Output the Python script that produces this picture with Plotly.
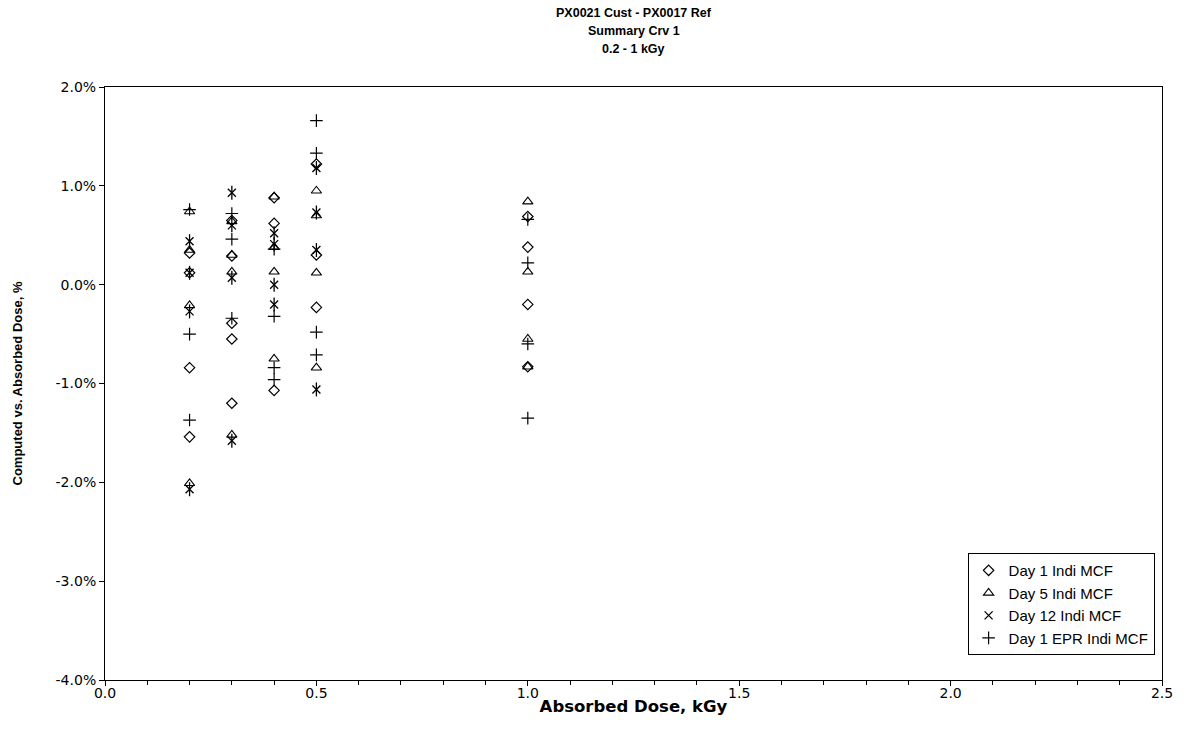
import plotly.graph_objects as go

# Absorbed dose (kGy) positions and deviations (%) per series
day1_x = [0.2, 0.2, 0.2, 0.2, 0.3, 0.3, 0.3, 0.3, 0.3, 0.4, 0.4, 0.4, 0.5, 0.5, 0.5, 1.0, 1.0, 1.0, 1.0]
day1_y = [0.32, 0.12, -0.84, -1.54, 0.65, 0.29, -0.39, -0.55, -1.20, 0.88, 0.62, -1.07, 1.22, 0.30, -0.23, 0.69, 0.38, -0.20, -0.83]

day5_x = [0.2, 0.2, 0.2, 0.2, 0.3, 0.3, 0.3, 0.3, 0.4, 0.4, 0.4, 0.4, 0.5, 0.5, 0.5, 0.5, 1.0, 1.0, 1.0, 1.0]
day5_y = [0.74, 0.35, -0.21, -2.01, 0.64, 0.30, 0.13, -1.52, 0.89, 0.38, 0.13, -0.75, 0.95, 0.70, 0.12, -0.84, 0.84, 0.13, -0.55, -0.83]

day12_x = [0.2, 0.2, 0.2, 0.2, 0.3, 0.3, 0.3, 0.3, 0.4, 0.4, 0.4, 0.4, 0.5, 0.5, 0.5, 0.5]
day12_y = [0.44, 0.12, -0.27, -2.07, 0.93, 0.60, 0.07, -1.58, 0.52, 0.41, 0.00, -0.20, 1.18, 0.73, 0.35, -1.06]

epr_x = [0.2, 0.2, 0.2, 0.3, 0.3, 0.3, 0.4, 0.4, 0.4, 0.4, 0.5, 0.5, 0.5, 0.5, 1.0, 1.0, 1.0, 1.0]
epr_y = [0.76, -0.50, -1.37, 0.72, 0.46, -0.34, 0.36, -0.32, -0.84, -0.96, 1.66, 1.33, -0.48, -0.71, 0.66, 0.22, -0.60, -1.35]

x_ticks = [0.0, 0.5, 1.0, 1.5, 2.0, 2.5]
x_tick_labels = ["0.0", "0.5", "1.0", "1.5", "2.0", "2.5"]
y_ticks = [2.0, 1.0, 0.0, -1.0, -2.0, -3.0, -4.0]
y_tick_labels = ["2.0%", "1.0%", "0.0%", "-1.0%", "-2.0%", "-3.0%", "-4.0%"]

title_lines = ["PX0021 Cust - PX0017 Ref", "Summary Crv 1", "0.2 - 1 kGy"]

WIDE = "DejaVu Sans, Verdana, sans-serif"
ARIAL = "Liberation Sans, Arial, sans-serif"
BLACK = "#000000"

fig = go.Figure()

fig.add_trace(go.Scatter(
    x=day1_x, y=day1_y, mode="markers", name="Day 1 Indi MCF",
    marker=dict(symbol="diamond-open", size=8, color=BLACK, line=dict(width=1.2, color=BLACK)),
))
fig.add_trace(go.Scatter(
    x=day5_x, y=day5_y, mode="markers", name="Day 5 Indi MCF",
    marker=dict(symbol="triangle-up-open", size=9, color=BLACK, line=dict(width=1.1, color=BLACK)),
))
fig.add_trace(go.Scatter(
    x=day12_x, y=day12_y, mode="markers", name="Day 12 Indi MCF",
    marker=dict(symbol="x-thin-open", size=8, color=BLACK, line=dict(width=1.3, color=BLACK)),
))
fig.add_trace(go.Scatter(
    x=day12_x, y=day12_y, mode="markers", name="Day 12 Indi MCF", showlegend=False,
    marker=dict(symbol="line-ns-open", size=10, color=BLACK, line=dict(width=1.3, color=BLACK)),
    hoverinfo="skip",
))
fig.add_trace(go.Scatter(
    x=epr_x, y=epr_y, mode="markers", name="Day 1 EPR Indi MCF",
    marker=dict(symbol="cross-thin-open", size=9, color=BLACK, line=dict(width=1.2, color=BLACK)),
))

# title lines placed individually to get the reference line spacing
title_pos = [1.1248, 1.0944, 1.0641]
annotations = [
    dict(text="<b>%s</b>" % t, x=0.5, xref="paper", y=yp, yref="paper", yanchor="middle",
         showarrow=False, align="center", font=dict(family=ARIAL, size=12.5, color=BLACK))
    for t, yp in zip(title_lines, title_pos)
]

fig.update_layout(
    width=1191, height=736,
    margin=dict(l=105, r=29, t=87, b=56),
    paper_bgcolor="white", plot_bgcolor="white",
    font=dict(family=WIDE, size=13, color=BLACK),
    showlegend=True,
    legend=dict(
        x=0.993, y=0.214, xanchor="right", yanchor="top",
        bordercolor=BLACK, borderwidth=1, bgcolor="white",
        font=dict(family=ARIAL, size=15, color=BLACK),
        tracegroupgap=0, itemwidth=30,
    ),
    annotations=annotations,
)

fig.update_xaxes(
    range=[0, 2.5], tickmode="array", tickvals=x_ticks, ticktext=x_tick_labels,
    ticks="outside", ticklen=5, tickcolor=BLACK, tickwidth=1,
    minor=dict(dtick=0.1, ticks="outside", ticklen=4, tickcolor=BLACK, showgrid=False),
    showline=True, linecolor=BLACK, linewidth=1, mirror=True,
    showgrid=False, zeroline=False,
    ticklabelstandoff=-5,
    tickfont=dict(family=WIDE, size=14, color=BLACK),
    title=dict(text="<b>Absorbed Dose, kGy</b>", font=dict(family=WIDE, size=16.5, color=BLACK), standoff=0),
)
fig.update_yaxes(
    range=[-4.0, 2.0], tickmode="array", tickvals=y_ticks, ticktext=y_tick_labels,
    ticks="outside", ticklen=5, tickcolor=BLACK, tickwidth=1,
    showline=True, linecolor=BLACK, linewidth=1, mirror=True,
    showgrid=False, zeroline=False,
    tickfont=dict(family=WIDE, size=14, color=BLACK),
    title=dict(text="<b>Computed vs. Absorbed Dose, %</b>", font=dict(family=ARIAL, size=13, color=BLACK), standoff=30),
)

fig.write_html("out.html")
